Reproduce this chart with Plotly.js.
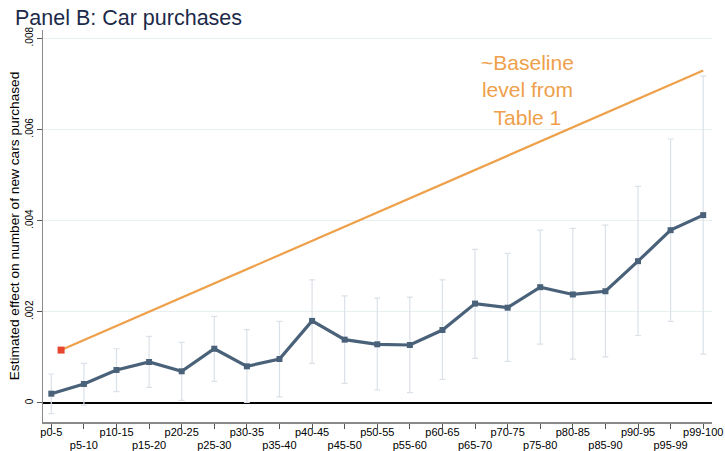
<!DOCTYPE html>
<html>
<head>
<meta charset="utf-8">
<script src="https://cdn.plot.ly/plotly-3.0.1.min.js"></script>
<style>
html,body{margin:0;padding:0;background:#fff;}
#chart{width:725px;height:451px;}
</style>
</head>
<body>
<div id="chart"></div>
<script>
// Categories (income percentile bins)
const categories = ["p0-5","p5-10","p10-15","p15-20","p20-25","p25-30","p30-35","p35-40","p40-45","p45-50",
  "p50-55","p55-60","p60-65","p65-70","p70-75","p75-80","p80-85","p85-90","p90-95","p95-99","p99-100"];
// Point estimates
const estimate = [0.000204,0.000417,0.000724,0.000899,0.000695,0.00119,0.000804,0.000965,0.00180,0.001389,
  0.001287,0.001272,0.00160,0.00218,0.00209,0.00254,0.00238,0.00245,0.00311,0.00379,0.00412];
// Confidence interval bounds
const ciUpper = [0.000636,0.00087,0.00119,0.00146,0.00133,0.00190,0.00161,0.00179,0.00270,0.00235,
  0.00230,0.00232,0.00270,0.00337,0.00328,0.00379,0.00383,0.00390,0.00475,0.00579,0.00717];
const ciLower = [-0.000235,-0.00005,0.000248,0.000344,0.000059,0.000476,0.000015,0.000132,0.00087,0.000432,
  0.000285,0.000226,0.00052,0.00098,0.000914,0.00129,0.00096,0.00101,0.00148,0.00179,0.00107];
// Baseline line (from Table 1), in category-position units
const baselineX = [1.3, 21];
const baselineY = [0.00116, 0.00729];
// Y tick labels
const yTickVals = [0, 0.002, 0.004, 0.006, 0.008];
const yTickText = ["0", ".002", ".004", ".006", ".008"];

const xPos = categories.map((c, i) => i + 1);
const xTickTextTop = categories.map((c, i) => (i % 2 === 0 ? c : ""));
const xPosLow = xPos.filter((p, i) => i % 2 === 1);
const xTickTextLow = categories.filter((c, i) => i % 2 === 1);

const errPlus = ciUpper.map((u, i) => u - estimate[i]);
const errMinus = ciLower.map((l, i) => estimate[i] - l);

const xRange = [0.745, 21.27];

const traces = [
  {
    x: xPos, y: estimate, type: "scatter", mode: "markers",
    marker: {size: 1, opacity: 0},
    error_y: {type: "data", array: errPlus, arrayminus: errMinus, color: "#dbe1e8", thickness: 1.2, width: 3},
    hoverinfo: "skip", showlegend: false
  },
  {
    x: baselineX, y: baselineY, type: "scatter", mode: "lines",
    line: {color: "#eea04a", width: 2.2}, showlegend: false
  },
  {
    x: [baselineX[0]], y: [baselineY[0]], type: "scatter", mode: "markers",
    marker: {symbol: "square", size: 7, color: "#e8452e"}, showlegend: false
  },
  {
    x: xPos, y: estimate, type: "scatter", mode: "lines+markers",
    line: {color: "#4a6279", width: 3.2},
    marker: {symbol: "square", size: 6, color: "#4a6279"}, showlegend: false
  },
  {
    x: xPosLow, y: estimate.filter((v, i) => i % 2 === 1), xaxis: "x2", yaxis: "y",
    type: "scatter", mode: "markers", marker: {size: 1, opacity: 0},
    hoverinfo: "skip", showlegend: false
  }
];

const layout = {
  width: 725, height: 451,
  margin: {l: 43, r: 13, t: 30, b: 29},
  paper_bgcolor: "#ffffff", plot_bgcolor: "#ffffff",
  font: {family: "Liberation Sans, Arial, sans-serif", color: "#000"},
  title: {text: "Panel B: Car purchases", x: 15/725, xanchor: "left", xref: "container",
    y: 1 - 17/451, yanchor: "middle", yref: "container",
    font: {size: 21.5, color: "#1c2a4a", family: "Liberation Sans, Arial, sans-serif"}},
  xaxis: {
    range: xRange, tickmode: "array", tickvals: xPos, ticktext: xTickTextTop,
    tickangle: 0,
    ticks: "outside", ticklen: 5, tickcolor: "#555", tickwidth: 1,
    ticklabelstandoff: -6,
    showline: true, linecolor: "#8a8a8a", linewidth: 1.5,
    showgrid: false, zeroline: false,
    tickfont: {size: 11, color: "#000"}
  },
  xaxis2: {
    range: xRange, overlaying: "x", side: "bottom", anchor: "y",
    tickmode: "array", tickvals: xPosLow, ticktext: xTickTextLow,
    tickangle: 0, ticks: "", ticklen: 0,
    ticklabelstandoff: 15,
    showline: false, showgrid: false, zeroline: false,
    tickfont: {size: 11, color: "#000"}
  },
  yaxis: {
    range: [-0.000417, 0.00818], tickmode: "array", tickvals: yTickVals, ticktext: yTickText,
    tickangle: -90,
    ticks: "outside", ticklen: 5, tickcolor: "#555", tickwidth: 1,
    showline: true, linecolor: "#8a8a8a", linewidth: 1.5,
    showgrid: true, gridcolor: "#e7eff0", gridwidth: 1,
    zeroline: true, zerolinecolor: "#000", zerolinewidth: 1.2,
    tickfont: {size: 10, color: "#000"},
    title: {text: "Estimated effect on number of new cars purchased", font: {size: 13.7, color: "#000"}, standoff: 0}
  },
  annotations: [{
    x: 15.6, y: 0.00686, xref: "x", yref: "y",
    text: "~Baseline<br>level from<br>Table 1", showarrow: false,
    font: {size: 21, color: "#eea04a", family: "Liberation Sans, Arial, sans-serif"},
    align: "center", xanchor: "center", yanchor: "middle"
  }]
};

Plotly.newPlot("chart", traces, layout, {displayModeBar: false, staticPlot: true});
</script>
</body>
</html>
